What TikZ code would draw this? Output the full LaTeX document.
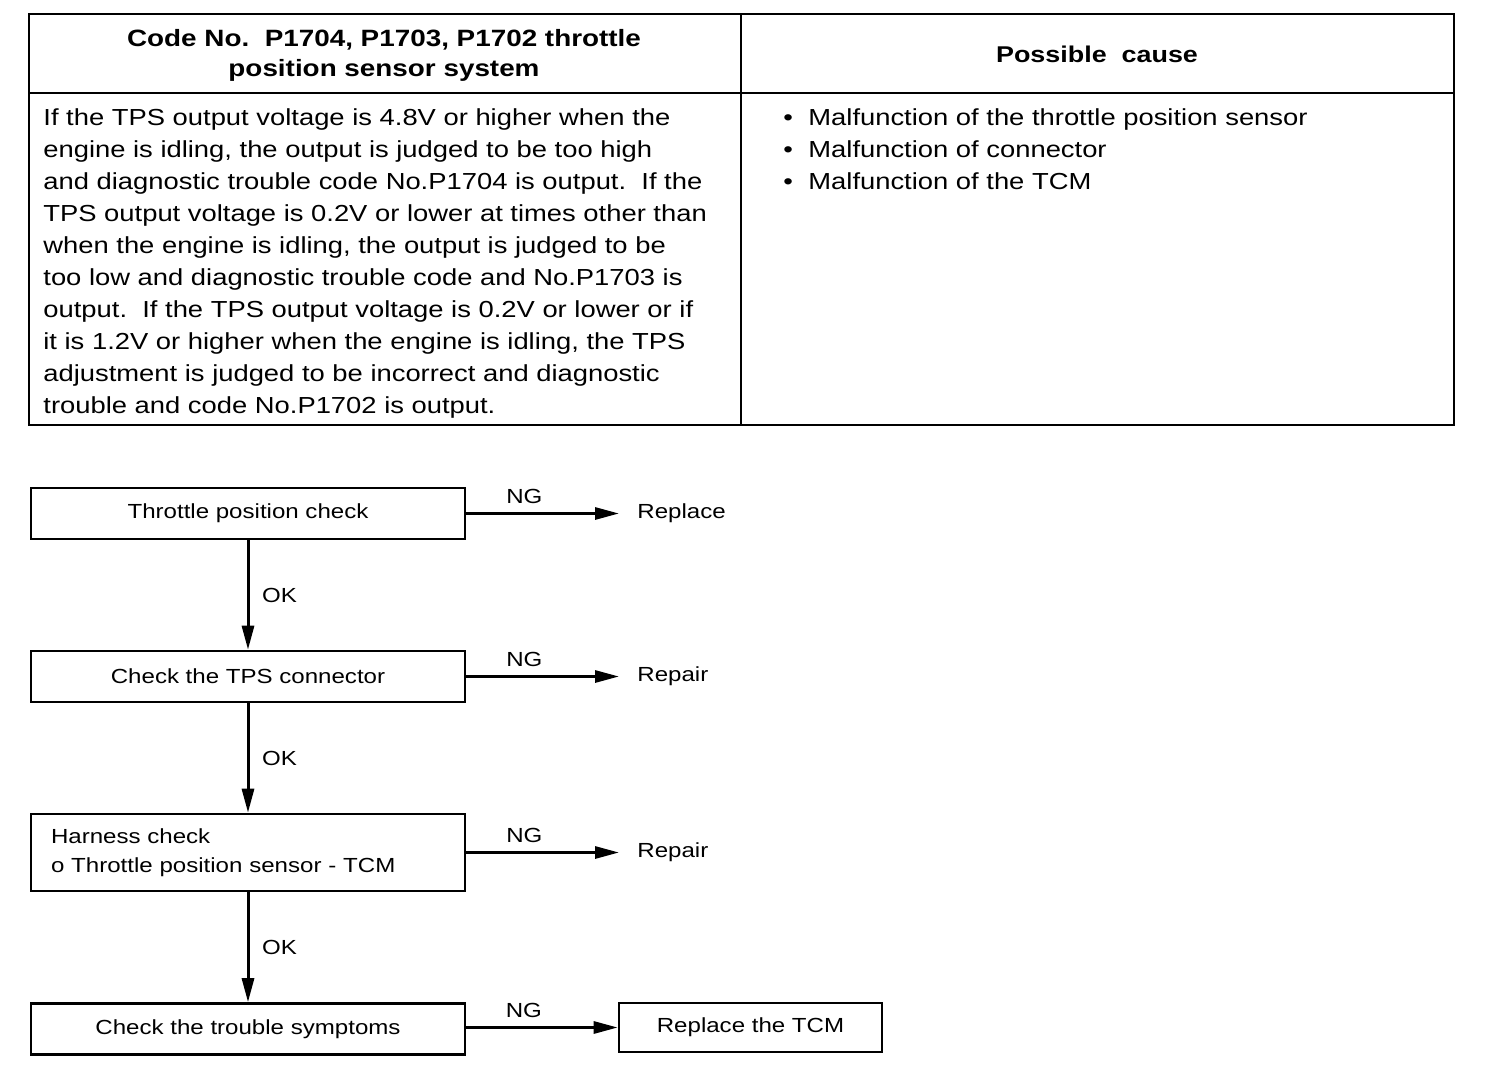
\documentclass[tikz,border=0pt]{standalone}
\usepackage{fontspec}
\setmainfont[FakeStretch=1.18]{Liberation Sans}
\usetikzlibrary{arrows.meta}
\tikzset{
  box/.style={draw, line width=1.3pt, minimum width=217pt, minimum height=25.5pt, inner sep=0pt, font=\fontsize{10.2}{14.5}\selectfont},
  result/.style={anchor=west, inner xsep=9pt, font=\fontsize{10.2}{14.5}\selectfont},
  flow/.style={line width=1.5pt, -{Triangle[length=12pt,width=6pt]}},
  tag/.style={font=\fontsize{10.2}{14.5}\selectfont}
}
\begin{document}
\begin{tikzpicture}[x=0.5pt,y=-0.5pt]
        \useasboundingbox (0,0) rectangle (1504,1086);
        % table
        \draw[line width=1pt] (29,14) rectangle (1454,425);
        \draw[line width=1pt] (741,14) -- (741,425);
        \draw[line width=1pt] (29,93) -- (1454,93);
        \node[font=\fontsize{11.8}{15}\selectfont\bfseries, align=center] (code) at (384,55) {Code No.\ \ P1704, P1703, P1702 throttle\\position sensor system};
        \node[font=\fontsize{11.4}{15}\selectfont\bfseries] (cause) at (1097,54) {Possible\ \ cause};
        \node[anchor=north west, inner sep=0pt, align=left, font=\fontsize{11.6}{16}\selectfont] (desc) at (43,108) {If the TPS output voltage is 4.8V or higher when the\\
engine is idling, the output is judged to be too high\\
and diagnostic trouble code No.P1704 is output.\ \ If the\\
TPS output voltage is 0.2V or lower at times other than\\
when the engine is idling, the output is judged to be\\
too low and diagnostic trouble code and No.P1703 is\\
output.\ \ If the TPS output voltage is 0.2V or lower or if\\
it is 1.2V or higher when the engine is idling, the TPS\\
adjustment is judged to be incorrect and diagnostic\\
trouble and code No.P1702 is output.};
        \node[anchor=north west, inner sep=0pt, align=left, font=\fontsize{11.6}{16}\selectfont] (causes) at (783,108) {\makebox[12.5pt][l]{\textbullet}Malfunction of the throttle position sensor\\
\makebox[12.5pt][l]{\textbullet}Malfunction of connector\\
\makebox[12.5pt][l]{\textbullet}Malfunction of the TCM};

        % flowchart
        \node[box] (tpc) at (248,513.5) {Throttle position check};
        \node[box] (tps) at (248,676.5) {Check the TPS connector};
        \node[box, minimum height=38.5pt, align=left, text width=197pt, inner xsep=10pt] (harness) at (248,852.5) {Harness check\\o Throttle position sensor - TCM};
        \node[box] (symptoms) at (248,1029) {Check the trouble symptoms};
        \node[box, minimum width=131.5pt, minimum height=24.5pt] (tcm) at (750.5,1027.5) {Replace the TCM};

        \node[result] (replace) at (619,513.5) {Replace};
        \node[result] (repair1) at (619,676.5) {Repair};
        \node[result] (repair2) at (619,852.5) {Repair};

        \path[draw,flow] (tpc) -- node[tag, pos=0.38, above=1pt] {NG} (replace);
        \path[draw,flow] (tps) -- node[tag, pos=0.38, above=1pt] {NG} (repair1);
        \path[draw,flow] (harness) -- node[tag, pos=0.38, above=1pt] {NG} (repair2);
        \path[draw,flow] (symptoms.east |- tcm) -- node[tag, pos=0.38, above=1pt] {NG} (tcm);

        \path[draw,flow] (tpc) -- node[tag, midway, right=3pt] {OK} (tps);
        \path[draw,flow] (tps) -- node[tag, midway, right=3pt] {OK} (harness);
        \path[draw,flow] (harness) -- node[tag, midway, right=3pt] {OK} (symptoms);
\end{tikzpicture}
\end{document}
